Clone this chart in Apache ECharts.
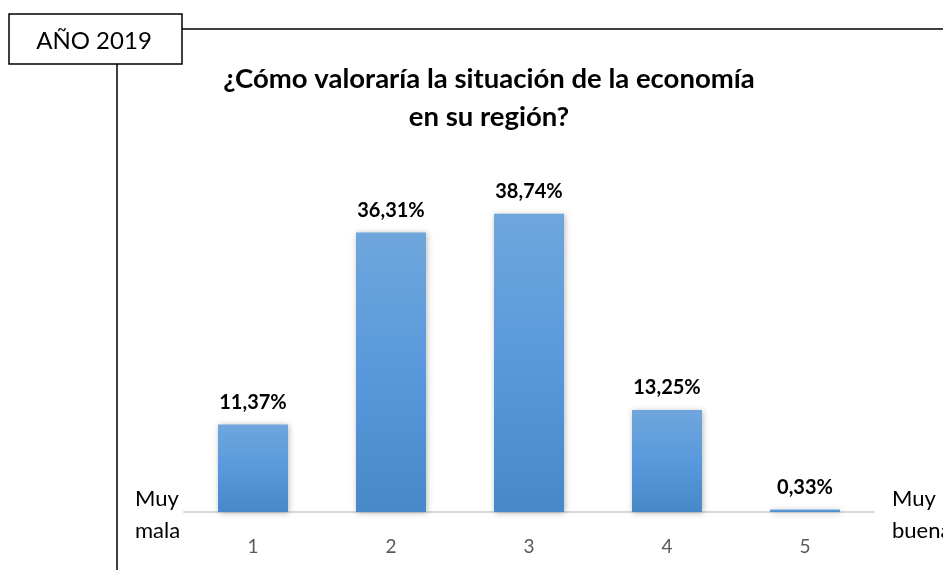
<!DOCTYPE html>
<html>
<head>
<meta charset="utf-8">
<script src="https://cdn.jsdelivr.net/npm/echarts@6/dist/echarts.min.js"></script>
<style>
  html, body { margin: 0; padding: 0; background: #fff; }
  #chart { width: 943px; height: 570px; }
</style>
</head>
<body>
<div id="chart"></div>
<script>
// Rating scale 1 (muy mala) to 5 (muy buena)
const categories = ['1', '2', '3', '4', '5'];
const shares = [11.37, 36.31, 38.74, 13.25, 0.33];
const yearLabel = 'AÑO 2019';
const titleText = '¿Cómo valoraría la situación de la economía\nen su región?';

const FONT = 'Lato, "Open Sans", sans-serif';
const chart = echarts.init(document.getElementById('chart'));

chart.setOption({
  animation: false,
  backgroundColor: '#ffffff',
  title: {
    text: titleText,
    left: 484,
    top: 55,
    textAlign: 'center',
    textStyle: {
      fontFamily: FONT,
      fontWeight: 'bold',
      fontSize: 27.5,
      lineHeight: 38,
      color: '#000'
    }
  },
  grid: { left: 184, right: 69, top: 204, bottom: 58 },
  xAxis: {
    type: 'category',
    data: categories,
    axisLine: { lineStyle: { color: '#d9d9d9', width: 2 } },
    axisTick: { show: false },
    axisLabel: { color: '#595959', fontSize: 19, fontFamily: FONT, margin: 25 }
  },
  yAxis: {
    type: 'value',
    min: 0,
    max: 40,
    show: false,
    splitLine: { show: false }
  },
  series: [{
    type: 'bar',
    data: shares,
    barWidth: 70,
    itemStyle: {
      color: new echarts.graphic.LinearGradient(0, 0, 0, 1, [
        { offset: 0, color: '#6fa6dc' },
        { offset: 0.5, color: '#5899dc' },
        { offset: 1, color: '#4788c8' }
      ]),
      shadowColor: 'rgba(0,0,0,0.28)',
      shadowBlur: 6,
      shadowOffsetX: 1,
      shadowOffsetY: 1
    },
    label: {
      show: true,
      position: 'top',
      distance: 12,
      fontFamily: FONT,
      fontWeight: 'bold',
      fontSize: 20,
      color: '#000',
      formatter: p => p.value.toFixed(2).replace('.', ',') + '%'
    }
  }],
  graphic: [
    // year tag and frame lines
    { type: 'line', shape: { x1: 182, y1: 29, x2: 943, y2: 29 }, style: { stroke: '#000', lineWidth: 1.5 } },
    { type: 'line', shape: { x1: 117, y1: 64, x2: 117, y2: 570 }, style: { stroke: '#000', lineWidth: 1.5 } },
    { type: 'rect', shape: { x: 9, y: 14, width: 173, height: 50 }, style: { fill: '#fff', stroke: '#000', lineWidth: 1.5 } },
    { type: 'text', x: 94, y: 41, style: { text: yearLabel, fontFamily: FONT, fontSize: 24, fill: '#000', textAlign: 'center', textVerticalAlign: 'middle' } },
    // scale end captions
    { type: 'text', x: 135, y: 515, style: { text: 'Muy\nmala', fontFamily: FONT, fontSize: 22, lineHeight: 32, fill: '#000', textAlign: 'left', textVerticalAlign: 'middle' } },
    { type: 'text', x: 892, y: 515, style: { text: 'Muy\nbuena', fontFamily: FONT, fontSize: 22, lineHeight: 32, fill: '#000', textAlign: 'left', textVerticalAlign: 'middle' } }
  ]
});
</script>
</body>
</html>
